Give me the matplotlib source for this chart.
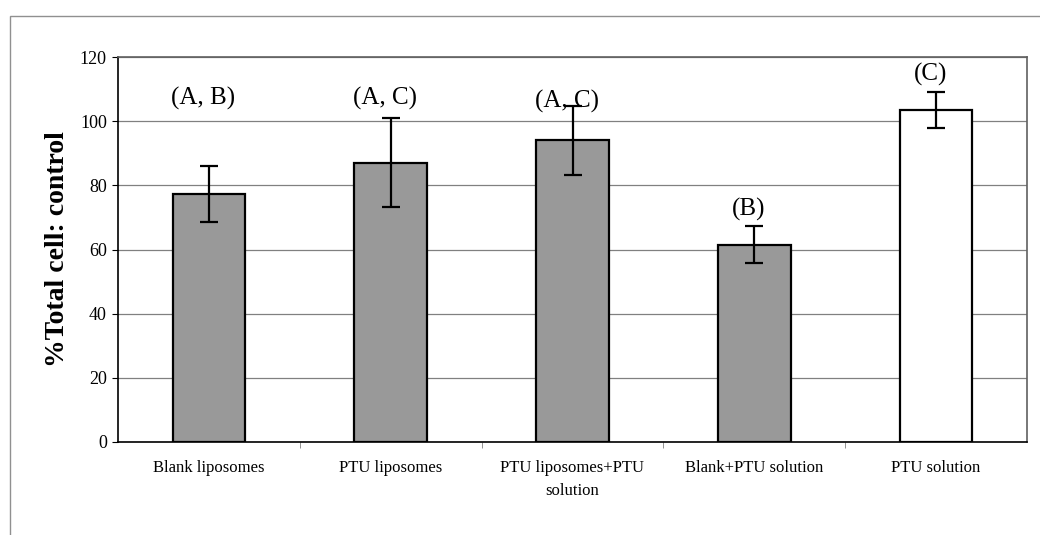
import numpy as np
import matplotlib.pyplot as plt
from matplotlib.patches import Rectangle

categories = ["Blank liposomes", "PTU liposomes", "PTU liposomes+PTU\nsolution",
              "Blank+PTU solution", "PTU solution"]
values = [77.3, 87.1, 94.0, 61.5, 103.5]
errors = [8.8, 14.0, 10.7, 5.7, 5.5]
letters = ["(A, B)", "(A, C)", "(A, C)", "(B)", "(C)"]
letter_y = [107, 107, 106, 72.5, 114.5]
bar_colors = ["#999999", "#999999", "#999999", "#999999", "white"]

plt.rcParams["font.family"] = ["Liberation Serif", "DejaVu Serif"]

fig = plt.figure(figsize=(10.4, 5.35), dpi=100)
ax = fig.add_axes([118 / 1040, 1 - 442 / 535, (1027 - 118) / 1040, (442 - 57) / 535])

# outer chart frame (extends past right/bottom edges like the scan)
fig.patches.append(Rectangle((10 / 1040, -0.05), 1.1, 1 - 16 / 535 + 0.05,
                             transform=fig.transFigure, fill=False,
                             edgecolor="#909090", linewidth=1.0))

x = np.arange(len(categories))
ax.bar(x, values, width=0.4, color=bar_colors, edgecolor="black", linewidth=1.6,
       zorder=3)
ax.errorbar(x, values, yerr=errors, fmt="none", ecolor="black", elinewidth=1.6,
            capsize=6.5, capthick=1.6, zorder=4)

for xi, lab, ly in zip(x, letters, letter_y):
    ax.text(xi - 0.03, ly, lab, ha="center", va="center", fontsize=18)

ax.set_xlim(-0.5, len(categories) - 0.5)
ax.set_ylim(0, 120)
ax.set_yticks(np.arange(0, 121, 20))
ax.yaxis.grid(True, color="#808080", linewidth=0.9, zorder=0)
ax.set_axisbelow(True)

ax.set_xticks(x)
ax.set_xticklabels(categories, fontsize=12, linespacing=1.6)
ax.tick_params(axis="x", length=0, pad=13)
ax.set_xticks(np.arange(0.5, len(categories) - 0.5, 1), minor=True)
ax.tick_params(axis="x", which="minor", length=4, color="#808080")
ax.tick_params(axis="y", labelsize=13, length=4, direction="out", pad=4)

for side in ["left", "bottom"]:
    ax.spines[side].set_color("black")
    ax.spines[side].set_linewidth(1.2)
for side in ["top", "right"]:
    ax.spines[side].set_color("#606060")
    ax.spines[side].set_linewidth(1.2)

ax.set_ylabel("%Total cell: control", fontsize=20, fontweight="bold", labelpad=7)

fig.savefig("out.png", dpi=100)
